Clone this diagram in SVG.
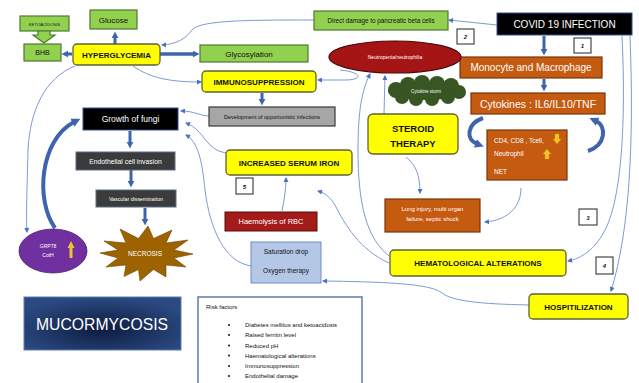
<svg xmlns="http://www.w3.org/2000/svg" width="639" height="383" viewBox="0 0 639 383">
<defs>
<style>
text{font-family:"Liberation Sans",Arial,sans-serif;}
.g{fill:#92d050;stroke:#4e7a2e;stroke-width:1.2}
.y{fill:#ffff00;stroke:#5e6238;stroke-width:1.3}
.o{fill:#c55a11;stroke:#7a3509;stroke-width:1.2}
.nb{fill:#fff;stroke:#222;stroke-width:1}
.b{font-weight:bold;fill:#111}
.w{fill:#fff}
.k{fill:#111}
.thin{fill:none;stroke:#7b9bd1;stroke-width:1}
.thick{fill:none;stroke:#3d64ad;stroke-width:3}
.num{font-size:6px;font-weight:bold;font-style:italic;fill:#111;text-anchor:middle}
</style>
<marker id="tn" viewBox="0 0 10 10" refX="8" refY="5" markerWidth="6" markerHeight="5" markerUnits="userSpaceOnUse" orient="auto"><path d="M0,0 L10,5 L0,10 z" fill="#4472c4"/></marker>
<marker id="tk" viewBox="0 0 10 10" refX="2" refY="5" markerWidth="7" markerHeight="8" markerUnits="userSpaceOnUse" orient="auto"><path d="M0,0 L10,5 L0,10 z" fill="#3d64ad"/></marker>
<marker id="tk2" viewBox="0 0 10 10" refX="2" refY="5" markerWidth="9" markerHeight="10" markerUnits="userSpaceOnUse" orient="auto"><path d="M0,0 L10,5 L0,10 z" fill="#3d64ad"/></marker>
<radialGradient id="mg" cx="0.5" cy="0.6" r="0.6"><stop offset="0" stop-color="#0d1c3f"/><stop offset="1" stop-color="#2b4a82"/></radialGradient>
</defs>
<rect width="639" height="383" fill="#fff"/>

<g id="connectors">
<path class="thin" marker-end="url(#tn)" d="M497,25 L449,20"/>
<path class="thin" marker-end="url(#tn)" d="M314,20 C250,20 200,20 192,30 C186,38 178,44 162,45"/>
<path class="thin" marker-end="url(#tn)" d="M133,66 C150,78 170,82 201,82"/>
<path class="thin" marker-end="url(#tn)" d="M75,66 C45,78 30,110 28,150 C27,190 26,215 27,232"/>
<path class="thin" marker-end="url(#tn)" d="M340,70 C362,72 364,80 345,80 L318,80"/>
<path class="thin" marker-end="url(#tn)" d="M209,116 C200,116 195,111 181,111"/>
<path class="thin" marker-end="url(#tn)" d="M226,153 C205,150 205,130 186,123"/>
<path class="thin" marker-end="url(#tn)" d="M251,266 C225,262 210,230 205,190 C202,160 198,142 186,135"/>
<path class="thin" marker-end="url(#tn)" d="M521,188 C521,205 510,220 485,222"/>
<path class="thin" marker-end="url(#tn)" d="M406,157 C416,165 420,175 420,193"/>
<path class="thin" marker-end="url(#tn)" d="M384,114 L385,76"/>
<path class="thin" marker-end="url(#tn)" d="M392,258 C365,240 358,200 358,150 C358,110 362,90 370,74"/>
<path class="thin" marker-end="url(#tn)" d="M389,263 C360,250 345,225 335,205 C330,197 325,193 318,191"/>
<path class="thin" marker-end="url(#tn)" d="M282,211 C284,200 286,190 286,178"/>
<path class="thin" marker-end="url(#tn)" d="M622,36 C626,120 622,200 604,232 C594,250 582,258 568,261"/>
<path class="thin" marker-end="url(#tn)" d="M630,36 C634,140 630,230 611,291"/>
<path class="thin" marker-end="url(#tn)" d="M529,305 C480,304 452,301 442,293 C432,285 400,282 323,281"/>

<path class="thick" marker-end="url(#tk)" d="M72,54 L67,54"/>
<path class="thick" marker-end="url(#tk)" d="M115,44 L115,37"/>
<path class="thick" style="stroke-width:3.5" marker-end="url(#tk)" d="M160,54 L194,54"/>
<path class="thick" marker-end="url(#tk)" d="M544,36 L544,50"/>
<path class="thick" marker-end="url(#tk)" d="M544,79 L544,86"/>
<path class="thick" marker-end="url(#tk)" d="M262,93 L262,100"/>
<path class="thick" marker-end="url(#tk)" d="M130,131 L130,143"/>
<path class="thick" marker-end="url(#tk)" d="M131,170 L131,182"/>
<path class="thick" marker-end="url(#tk)" d="M145,208 L145,220"/>
<path class="thick" style="stroke-width:4" marker-end="url(#tk2)" d="M483,118 C466,124 466,140 477,144"/>
<path class="thick" style="stroke-width:4" marker-end="url(#tk2)" d="M588,151 C606,145 607,126 596,121"/>
<path class="thick" style="stroke-width:4" marker-end="url(#tk2)" d="M55,228 C35,200 40,140 74,122"/>
</g>

<g id="ketoacidosis">
<rect class="g" x="20" y="16" width="49" height="15"/>
<text x="44.5" y="25.5" font-size="4.2" text-anchor="middle" class="k">KETOACIDOSIS</text>
<polygon class="g" points="38,31 50,31 50,35 55,35 44,43 33,35 38,35"/>
</g>
<g id="bhb">
<rect class="g" x="24" y="44" width="37" height="17"/>
<text x="42.5" y="55" font-size="7" text-anchor="middle" class="k">BHB</text>
</g>
<g id="glucose">
<rect class="g" x="90" y="10" width="47" height="19"/>
<text x="113.5" y="22.5" font-size="8" text-anchor="middle" class="k">Glucose</text>
</g>
<g id="hyperglycemia">
<rect class="y" x="73" y="44" width="87" height="21" rx="4"/>
<text x="116.5" y="57.5" font-size="8" text-anchor="middle" class="b">HYPERGLYCEMIA</text>
</g>
<g id="glycosylation">
<rect class="g" x="200" y="45" width="108" height="17"/>
<text x="249" y="56.5" font-size="8" text-anchor="middle" class="k">Glycosylation</text>
</g>
<g id="direct-damage">
<rect class="g" x="314" y="11" width="134" height="19"/>
<text x="381" y="23" font-size="6.3" text-anchor="middle" class="k">Direct damage to pancreatic beta cells</text>
</g>
<g id="covid">
<rect x="497" y="13" width="135" height="22" fill="#000" stroke="#2f528f" stroke-width="1"/>
<text x="564.5" y="27.5" font-size="10" text-anchor="middle" class="w">COVID 19 INFECTION</text>
</g>
<g id="n2"><rect class="nb" x="457" y="29" width="17" height="15"/><text class="num" x="465.5" y="39">2</text></g>
<g id="n1"><rect class="nb" x="574" y="38" width="17" height="15"/><text class="num" x="582.5" y="48">1</text></g>
<g id="monocyte">
<rect class="o" x="460" y="57" width="142" height="21"/>
<text x="531" y="71" font-size="10" text-anchor="middle" class="w">Monocyte and Macrophage</text>
</g>
<g id="cytokines">
<rect class="o" x="471" y="93" width="134" height="21"/>
<text x="538" y="107.5" font-size="10.5" text-anchor="middle" class="w">Cytokines : IL6/IL10/TNF</text>
</g>
<g id="cd4">
<rect class="o" x="487" y="130" width="80" height="50"/>
<text x="494" y="143" font-size="6.5" class="w">CD4, CD8 , Tcell,</text>
<polygon points="555,134 559,134 559,139 561,139 557,144 553,139 555,139" fill="#f2c12e" stroke="#d9a300" stroke-width="0.4"/>
<text x="494" y="156" font-size="6.5" class="w">Neutrophil</text>
<polygon points="545,159 549,159 549,154 551,154 547,149 543,154 545,154" fill="#f2c12e" stroke="#d9a300" stroke-width="0.4"/>
<text x="494" y="174" font-size="6.5" class="w">NET</text>
</g>
<g id="neutropenia">
<ellipse cx="395" cy="57" rx="66" ry="16" fill="#a51515" stroke="#4a0a0a" stroke-width="1.2"/>
<text x="395" y="59" font-size="5" text-anchor="middle" class="w">Neutropenia/neutrophilia</text>
</g>
<g id="cytokine-storm" fill="#375623">
<ellipse cx="426" cy="91" rx="38" ry="9"/>
<circle cx="396" cy="90" r="8"/>
<circle cx="408" cy="85" r="8"/>
<circle cx="422" cy="83" r="8"/>
<circle cx="437" cy="84" r="8"/>
<circle cx="451" cy="86" r="8"/>
<circle cx="459" cy="92" r="7"/>
<circle cx="448" cy="97" r="7"/>
<circle cx="432" cy="99" r="7"/>
<circle cx="416" cy="99" r="7"/>
<circle cx="402" cy="97" r="7"/>
<text x="426" y="93" font-size="4.5" text-anchor="middle" class="w">Cytokine storm</text>
</g>
<g id="immunosuppression">
<rect class="y" x="202" y="71" width="114" height="21" rx="4"/>
<text x="259" y="84.5" font-size="8" text-anchor="middle" class="b">IMMUNOSUPPRESSION</text>
</g>
<g id="development">
<rect x="209" y="107" width="126" height="19" fill="#a6a6a6" stroke="#3a3a3a" stroke-width="1.2"/>
<text x="272" y="118.5" font-size="5.5" text-anchor="middle" class="k">Development of opportunistic infections</text>
</g>
<g id="steroid">
<rect class="y" x="368" y="114" width="90" height="40" rx="5"/>
<text x="413" y="132" font-size="9.5" text-anchor="middle" class="b">STEROID</text>
<text x="413" y="147" font-size="9.5" text-anchor="middle" class="b">THERAPY</text>
</g>
<g id="lung-injury">
<rect class="o" x="385" y="199" width="95" height="33"/>
<text x="432.5" y="211" font-size="6" text-anchor="middle" class="w">Lung injury, multi organ</text>
<text x="432.5" y="221" font-size="6" text-anchor="middle" class="w">failure, septic shock</text>
</g>
<g id="n3"><rect class="nb" x="579" y="209" width="18" height="16"/><text class="num" x="588" y="219.5">3</text></g>
<g id="growth">
<rect x="83" y="108" width="95" height="22" fill="#000" stroke="#2f528f" stroke-width="1"/>
<text x="130.5" y="122" font-size="8.5" text-anchor="middle" class="w">Growth of fungi</text>
</g>
<g id="endothelial">
<rect x="76" y="152" width="99" height="18" fill="#3b3b3b" stroke="#5b6e84" stroke-width="1"/>
<text x="125.5" y="163.5" font-size="6.8" text-anchor="middle" class="w">Endothelial cell invasion</text>
</g>
<g id="vascular">
<rect x="96" y="190" width="80" height="17" fill="#3b3b3b" stroke="#5b6e84" stroke-width="1"/>
<text x="136" y="200.5" font-size="5.3" text-anchor="middle" class="w">Vascular dissemination</text>
</g>
<g id="necrosis">
<polygon points="193,254 174,258 186,267 166,265 166,277 153.5,269.5 140,281 138.5,269.5 124,276.5 126,265 106,267 118,258 100,253 118,250 104,241 126,243 120,229 138.5,238.5 148,226 153.5,238.5 172,230 166,243 188,240 174,250" fill="#9c6300" stroke="#6b4300" stroke-width="0.6"/>
<text x="145" y="256" font-size="6.5" text-anchor="middle" class="w">NECROSIS</text>
</g>
<g id="grp78">
<ellipse cx="53" cy="251" rx="34" ry="22" fill="#7030a0" stroke="#4b1f6e" stroke-width="0.8"/>
<text x="48" y="248" font-size="5" text-anchor="middle" class="w">GRP78</text>
<text x="48" y="257" font-size="5" text-anchor="middle" class="w">CotH</text>
<polygon points="67.5,248 71,241 74.5,248 72.5,248 72.5,258 69.5,258 69.5,248" fill="#f2c12e"/>
</g>
<g id="serum-iron">
<rect class="y" x="226" y="150" width="126" height="25" rx="4"/>
<text x="289" y="165.5" font-size="8" text-anchor="middle" class="b">INCREASED SERUM IRON</text>
</g>
<g id="n5"><rect class="nb" x="236" y="178" width="17" height="16"/><text class="num" x="244.5" y="188.5">5</text></g>
<g id="haemolysis">
<rect x="225" y="212" width="92" height="19" fill="#a31b1b" stroke="#5a0d0d" stroke-width="1"/>
<text x="271" y="224" font-size="7.5" text-anchor="middle" class="w">Haemolysis of RBC</text>
</g>
<g id="oxygen">
<rect x="251" y="242" width="70" height="41" fill="#b4c7e7" stroke="#6f8fc8" stroke-width="1"/>
<text x="286" y="254" font-size="6.5" text-anchor="middle" class="k">Saturation drop</text>
<text x="286" y="273" font-size="6.5" text-anchor="middle" class="k">Oxygen therapy</text>
</g>
<g id="hematological">
<rect class="y" x="390" y="250" width="176" height="26" rx="4"/>
<text x="478" y="266" font-size="8" text-anchor="middle" class="b">HEMATOLOGICAL ALTERATIONS</text>
</g>
<g id="n4"><rect class="nb" x="596" y="257" width="17" height="17"/><text class="num" x="604.5" y="268">4</text></g>
<g id="hospitilization">
<rect class="y" x="529" y="294" width="99" height="25" rx="4"/>
<text x="578.5" y="309.5" font-size="8" text-anchor="middle" class="b">HOSPITILIZATION</text>
</g>
<g id="mucormycosis">
<rect x="24" y="297" width="157" height="53" fill="url(#mg)" stroke="#5c7bb0" stroke-width="1"/>
<text x="102" y="329.5" font-size="17" text-anchor="middle" class="w" textLength="132" lengthAdjust="spacingAndGlyphs">MUCORMYCOSIS</text>
</g>
<g id="risk-factors" font-size="6">
<rect x="198" y="297" width="164" height="90" fill="#fff" stroke="#5f7ba4" stroke-width="1.5"/>
<text x="206" y="309" class="k">Risk factors</text>
<g class="k">
<circle cx="229" cy="325" r="1"/><text x="245" y="327">Diabetes mellitus and ketoacidosis</text>
<circle cx="229" cy="335" r="1"/><text x="245" y="337">Raised ferritin level</text>
<circle cx="229" cy="345.5" r="1"/><text x="245" y="347.5">Reduced pH</text>
<circle cx="229" cy="355.5" r="1"/><text x="245" y="357.5">Haematological alterations</text>
<circle cx="229" cy="366" r="1"/><text x="245" y="368">Immunosuppression</text>
<circle cx="229" cy="376" r="1"/><text x="245" y="378">Endothelial damage</text>
</g>
</g>
</svg>
